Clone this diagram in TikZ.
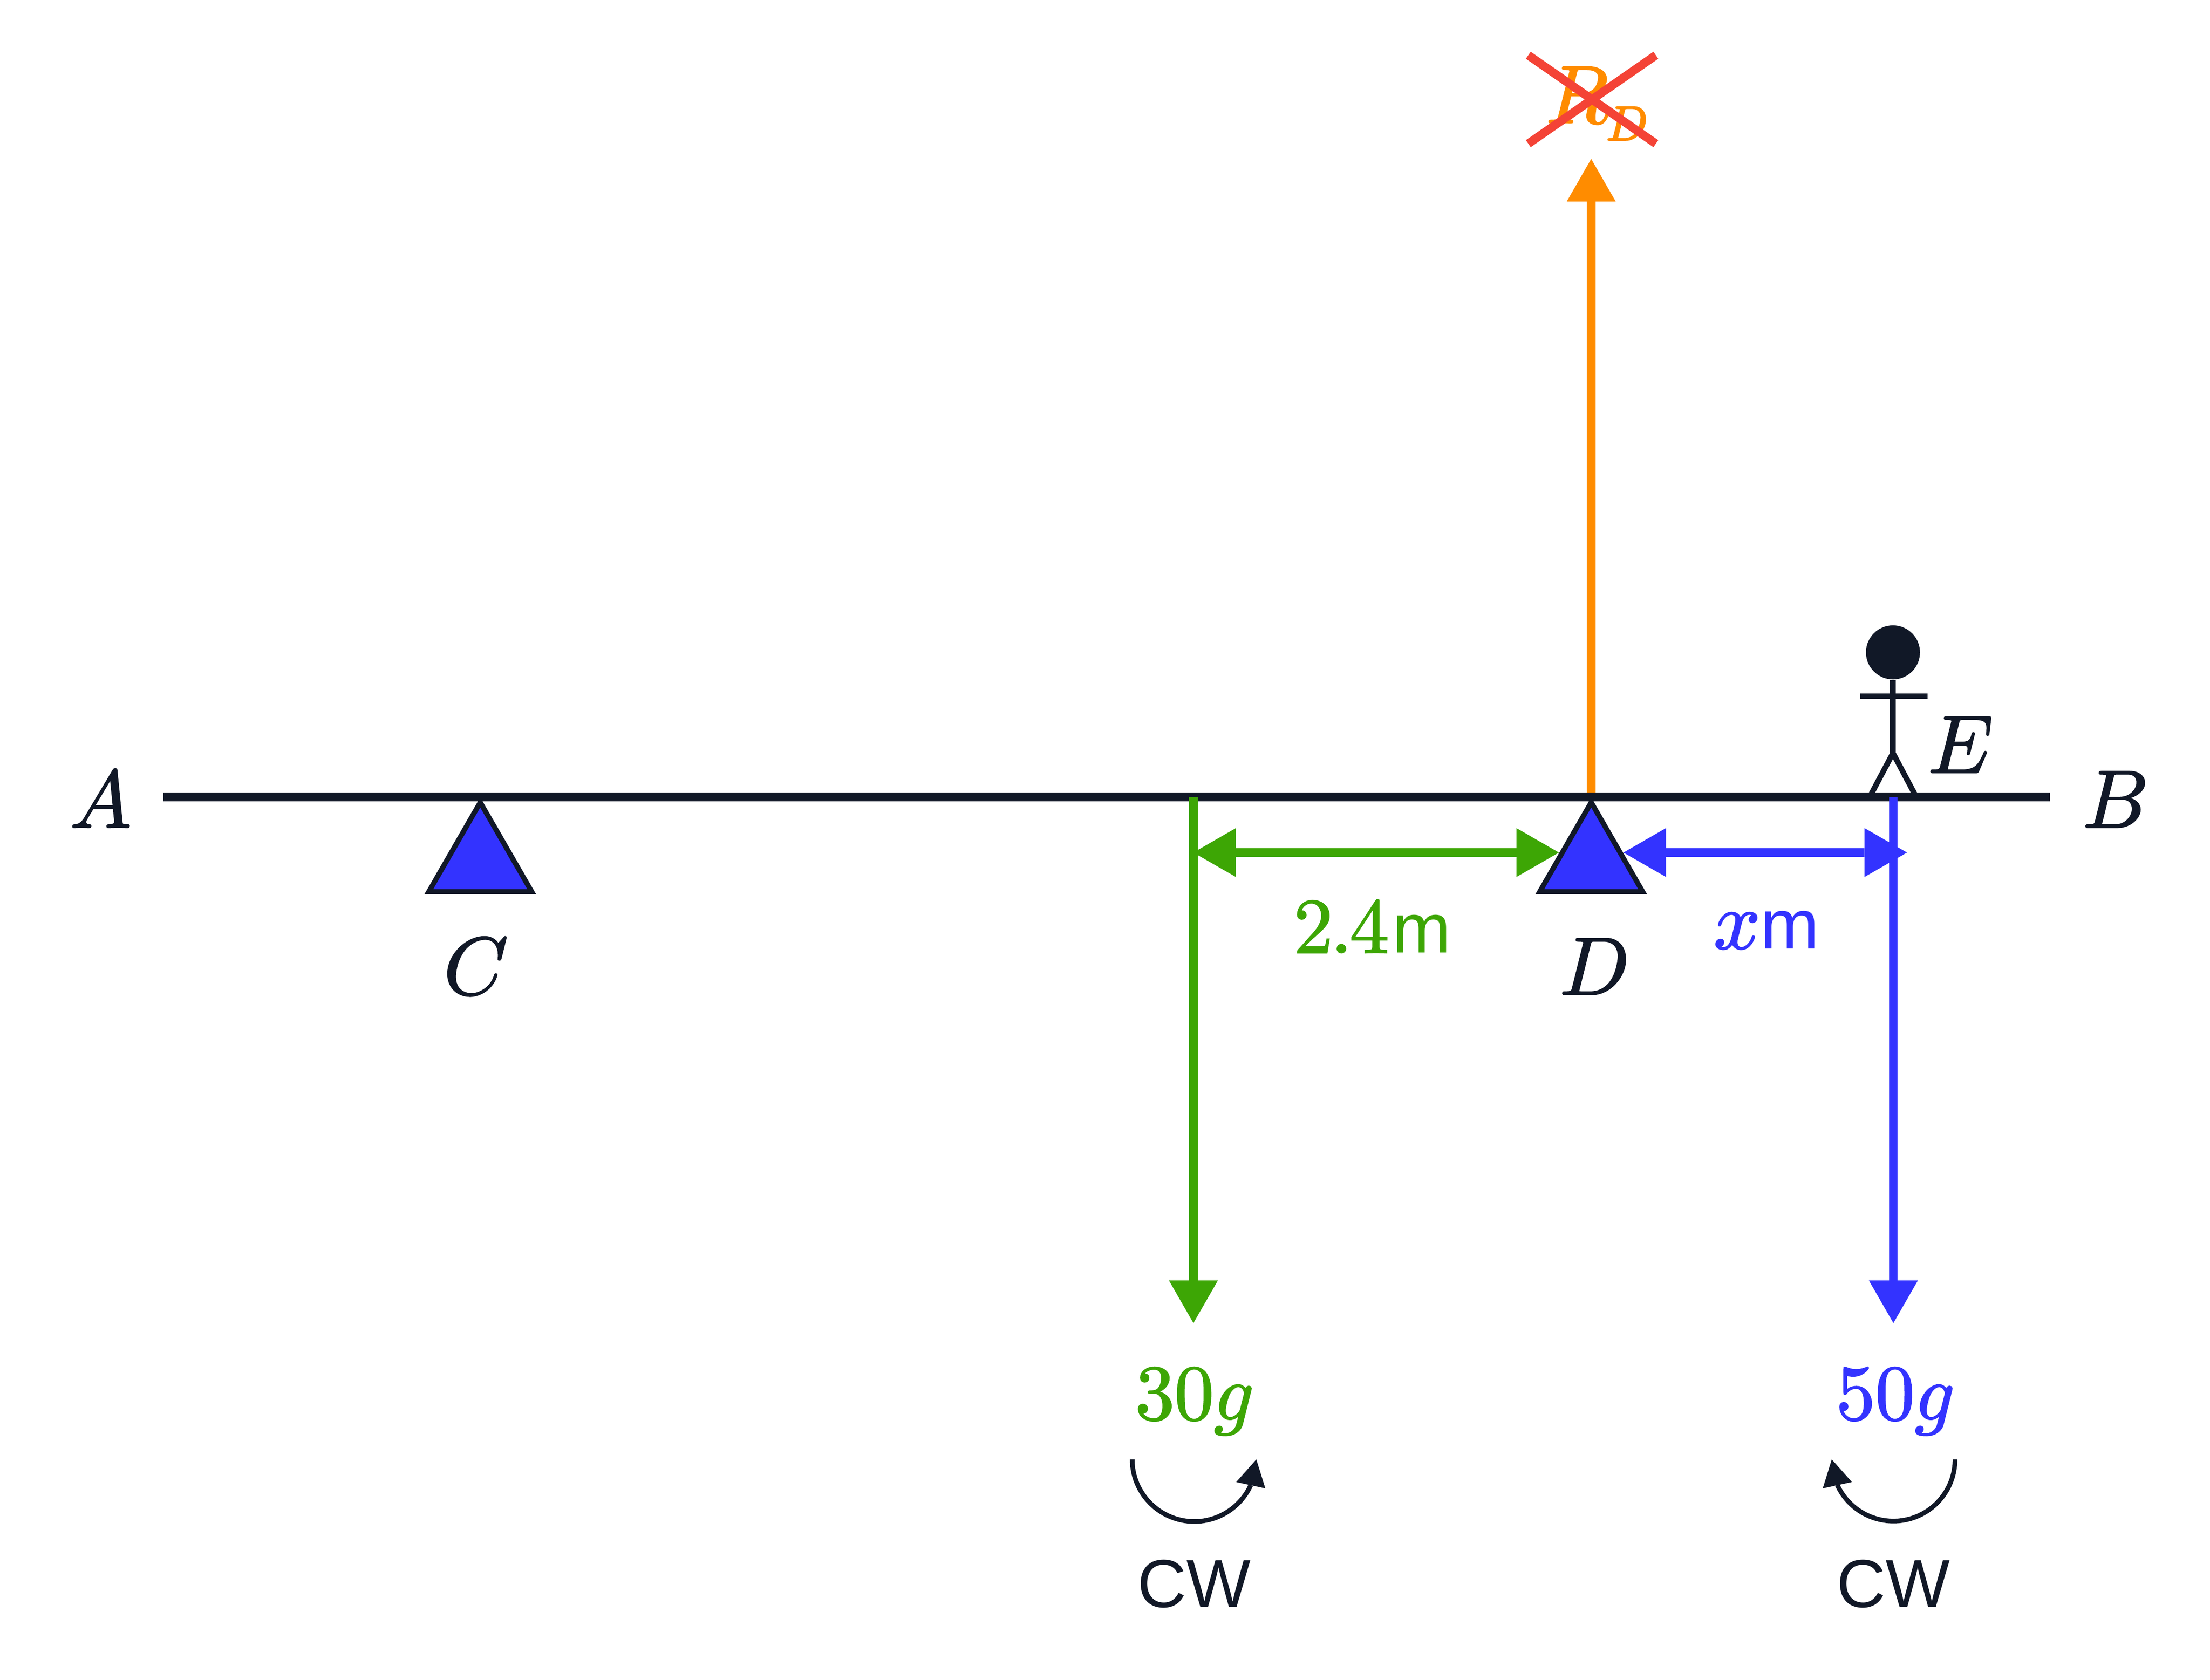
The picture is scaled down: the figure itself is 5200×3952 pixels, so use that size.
\documentclass[tikz,border=0pt]{standalone}
\usepackage[no-math]{fontspec}
\DeclareFontShape{OML}{cmm}{m}{it}{<->cmmi10}{\skewchar\font=127}
\DeclareFontShape{OT1}{cmr}{m}{n}{<->cmr10}{}
\newfontfamily\labsans{Liberation Sans}
\usetikzlibrary{arrows.meta,bending}
\definecolor{inkc}{HTML}{111827}
\definecolor{bluec}{HTML}{3333FF}
\definecolor{greenc}{HTML}{3DA605}
\definecolor{orangec}{HTML}{FF8C00}
\definecolor{redc}{HTML}{F44336}
\newcommand{\hvy}[1]{\special{pdf:code q 2 Tr 0.3 w}#1\special{pdf:code Q}}
\tikzset{
  headtip/.tip={Triangle[length=10pt,width=11.5pt,line width=0pt]},
  force/.style={line width=2pt},
  beamline/.style={line width=2pt,draw=inkc},
  support/.style={line width=1.2pt,draw=inkc,fill=bluec},
  figline/.style={line width=1.3pt,draw=inkc},
  turn/.style={line width=1.1pt,draw=inkc,-{Triangle[length=6.2pt,width=7pt,flex=1,line width=0pt]}},
  crossline/.style={line width=2pt,draw=redc},
  mathlabel/.style={inner sep=0pt,anchor=base,font=\fontsize{19.3}{24}\selectfont},
  numlabel/.style={inner sep=0pt,anchor=base,font=\fontsize{18.5}{24}\selectfont},
  sanslabel/.style={inner sep=0pt,anchor=base,font=\fontsize{16}{19}\selectfont\labsans}
}
\begin{document}
\begin{tikzpicture}[x=0.1pt,y=-0.1pt]
\useasboundingbox[fill=white] (0,0) rectangle (5200,3952);

% named points
\coordinate (beamL) at (384,1875);
\coordinate (beamR) at (4823,1875);
\coordinate (forceD) at (3744,1875);
\coordinate (forceDtip) at (3744,374);
\coordinate (load30) at (2808,1876);
\coordinate (load30tip) at (2808,3113);
\coordinate (load50) at (4455,1876);
\coordinate (load50tip) at (4455,3113);
\coordinate (dimGl) at (2808,2006);
\coordinate (dimGr) at (3668,2006);
\coordinate (dimBl) at (3820,2006);
\coordinate (dimBr) at (4487,2006);
\coordinate (cL1) at (1130,1888);
\coordinate (cL2) at (1251,2098);
\coordinate (cL3) at (1009,2098);
\coordinate (dL1) at (3744,1888);
\coordinate (dL2) at (3865,2098);
\coordinate (dL3) at (3623,2098);
\coordinate (crossA) at (3596,130);
\coordinate (crossB) at (3896,338);
\coordinate (crossC) at (3896,130);
\coordinate (crossD) at (3596,338);
\coordinate (hip) at (4454,1772);
\coordinate (armL) at (4376,1638);
\coordinate (armR) at (4535,1638);
\coordinate (footL) at (4402,1870);
\coordinate (footR) at (4506,1870);
\coordinate (turnAs) at (2664,3434);
\coordinate (turnBs) at (4600,3434);

% upward reaction at D
\draw[force,draw=orangec,-{headtip[fill=orangec]}] (forceD) -- (forceDtip);

% supports
\draw[support] (cL1) -- (cL2) -- (cL3) -- cycle;
\draw[support] (dL1) -- (dL2) -- (dL3) -- cycle;

% beam
\draw[beamline] (beamL) -- (beamR);

% person E
\node[circle,fill=inkc,inner sep=0pt,minimum size=12.7pt] (head) at (4454,1535) {};
\draw[figline] (head) -- (hip);
\draw[figline] (armL) -- (armR);
\draw[figline] (footL) -- (hip) -- (footR);

% dimensions and loads
\draw[force,draw=greenc,{headtip[fill=greenc]}-{headtip[fill=greenc]}] (dimGl) -- (dimGr);
\draw[force,draw=bluec,{headtip[fill=bluec]}-{headtip[fill=bluec]}] (dimBl) -- (dimBr);
\draw[force,draw=greenc,-{headtip[fill=greenc]}] (load30) -- (load30tip);
\draw[force,draw=bluec,-{headtip[fill=bluec]}] (load50) -- (load50tip);

% turning arrows
\draw[turn] (turnAs) arc[start angle=180,end angle=0,radius=146];
\draw[turn] (turnBs) arc[start angle=0,end angle=180,radius=145];

% labels
\node[mathlabel,text=inkc] (labA) at (237,1947) {\hvy{\(A\)}};
\node[mathlabel,text=inkc] (labB) at (4978,1947) {\hvy{\(B\)}};
\node[mathlabel,text=inkc] (labC) at (1120,2340) {\hvy{\(C\)}};
\node[mathlabel,text=inkc] (labD) at (3752,2340) {\hvy{\(D\)}};
\node[mathlabel,text=inkc] (labE) at (4613,1818) {\hvy{\(E\)}};
\node[mathlabel,text=orangec,anchor=base west] (labR) at (3635,289) {\hvy{\(R\)}\kern-0.6pt\raisebox{-4.1pt}{\fontsize{11.5}{14}\selectfont\hvy{\(D\)}}};
\draw[crossline] (crossA) -- (crossB);
\draw[crossline] (crossC) -- (crossD);
\node[numlabel,text=greenc,anchor=base west] (lab24) at (3042,2242) {\hvy{\(2\)\kern-0.6pt\(.\)\kern-0.6pt\(4\)}\kern0.8pt{\fontsize{16.5}{19}\selectfont\labsans m}};
\node[mathlabel,text=bluec,anchor=base west] (labxm) at (4030,2232) {\hvy{\(x\)}{\fontsize{16.5}{19}\selectfont\labsans m}};
\node[numlabel,text=greenc] (lab30) at (2811,3340) {\hvy{\(30g\)}};
\node[numlabel,text=bluec] (lab50) at (4460,3340) {\hvy{\(50g\)}};
\node[sanslabel,text=inkc] (cw1) at (2810,3782) {CW};
\node[sanslabel,text=inkc] (cw2) at (4455,3782) {CW};
\end{tikzpicture}
\end{document}
